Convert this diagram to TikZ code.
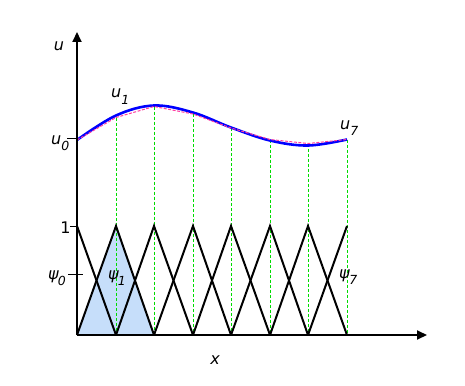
\documentclass[tikz,border=0pt]{standalone}
\usepackage{fontspec}
\setmainfont{DejaVu Sans}
\usetikzlibrary{arrows.meta}
\definecolor{basisblue}{RGB}{198,222,250}
\definecolor{pinkd}{RGB}{255,60,160}
\definecolor{guidegreen}{RGB}{0,220,0}
\newcommand{\mysub}[1]{\raisebox{-6pt}{\fontsize{12.5}{12.5}\selectfont #1}}
\tikzset{
  axis/.style={line width=2pt, -{Triangle[length=10pt,width=9pt]}},
  hat/.style={line width=2pt, black, line join=miter},
  guide/.style={guidegreen, line width=0.8pt, dash pattern=on 3pt off 2pt},
  exact/.style={blue, line width=2.6pt},
  interp/.style={pinkd, line width=1pt, dash pattern=on 3pt off 1.5pt},
  lbl/.style={font=\fontsize{16}{16}\selectfont\itshape, inner sep=0pt},
  tick/.style={line width=1pt}
}
\begin{document}
\begin{tikzpicture}[x=1pt,y=-1pt]
\useasboundingbox (0,0) rectangle (465,385);
% node coordinates on the curve
\foreach \i/\x/\y/\p in {0/77/140/140,1/116/115.5/117.5,2/154/105.5/106.5,3/193/112.5/114,4/231/127.5/128,5/270/140.5/139.5,6/308/145.5/143.5,7/347/139.5/139.5}{
  \coordinate (c\i) at (\x,\y);
  \coordinate (p\i) at (\x,\p);
  \coordinate (b\i) at (\x,335);
  \coordinate (t\i) at (\x,226);
}
\coordinate (O) at (77,335);
\coordinate (yend) at (77,32);
\coordinate (xend) at (427,335);
% shaded basis function
\fill[basisblue] (b0) -- (t1) -- (b2) -- cycle;
% guides
\foreach \i in {1,...,7}{ \draw[guide] (p\i) -- (b\i); }
% hats
\draw[hat] (t0) -- (b1);
\foreach \i/\j/\k in {0/1/2,1/2/3,2/3/4,3/4/5,4/5/6,5/6/7}{
  \draw[hat] (b\i) -- (t\j) -- (b\k);
}
\draw[hat] (b6) -- (t7);
% curves
\draw[exact] plot[smooth, tension=0.6] coordinates {(77,140) (116,115.5) (154,105.5) (193,112.5) (231,127.5) (270,140.5) (308,145.5) (347,139.5)};
\draw[interp] (p0) -- (p1) -- (p2) -- (p3) -- (p4) -- (p5) -- (p6) -- (p7);
% axes
\draw[axis] (O) -- (yend);
\draw[axis] (O) -- (xend);
% ticks
\coordinate (tu0) at (67,138.5);
\coordinate (tone) at (70,226);
\coordinate (tpsiA) at (68,274);
\coordinate (tpsiB) at (83,274);
\draw[tick] (tu0) -- (77,138.5);
\draw[tick] (tone) -- (77,226);
\draw[tick] (tpsiA) -- (tpsiB);
% labels
\node[lbl] (lu) at (59,46) {u};
\node[lbl, anchor=base west] (lu1) at (111,98) {u\mysub{1}};
\node[lbl, anchor=base west] (lu0) at (51,144) {u\mysub{0}};
\node[lbl, anchor=base west] (lu7) at (340,129) {u\mysub{7}};
\node[lbl, font=\fontsize{16}{16}\selectfont, anchor=base] (lone) at (65.5,233) {1};
\node[lbl, anchor=base west] (lpsi0) at (48,279) {ψ\kern-1pt\mysub{0}};
\node[lbl, anchor=base west] (lpsi1) at (108,279) {ψ\kern-1pt\mysub{1}};
\node[lbl, anchor=base west] (lpsi7) at (339,278) {ψ\kern-0.5pt\mysub{7}};
\node[lbl] (lx) at (215,360) {x};
\end{tikzpicture}
\end{document}
